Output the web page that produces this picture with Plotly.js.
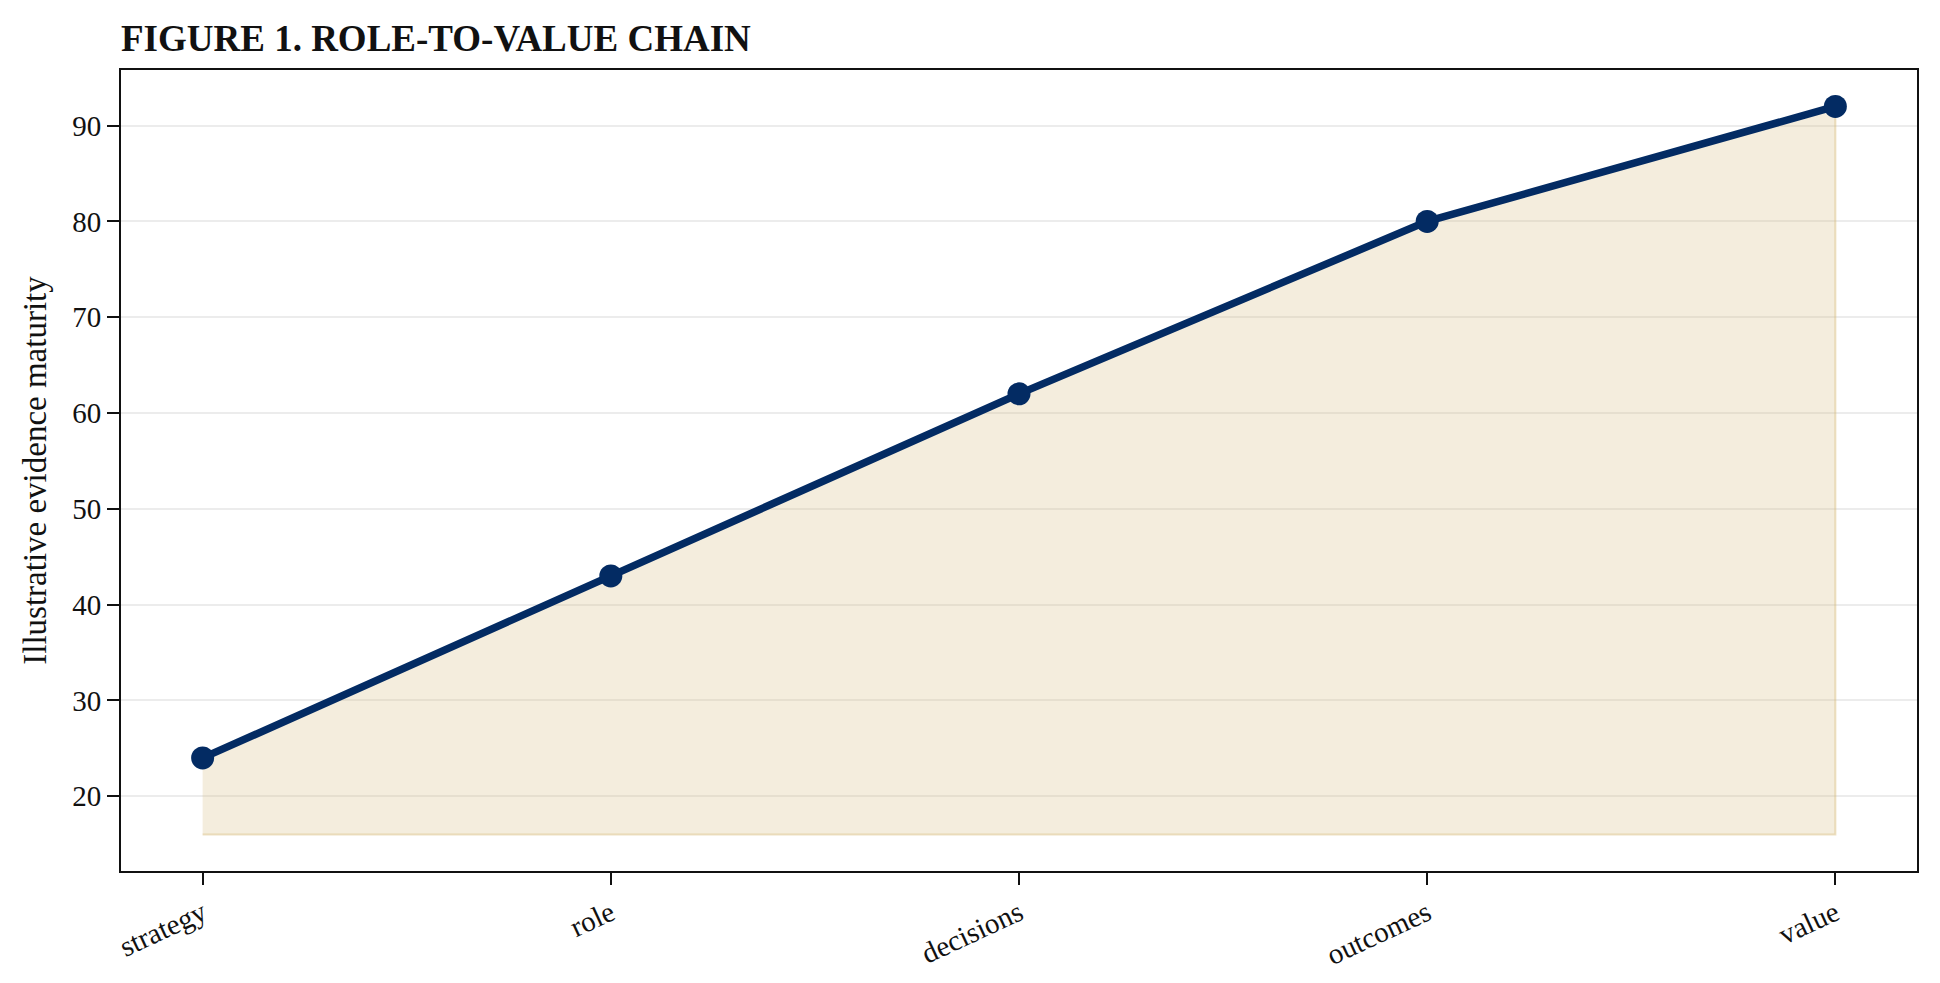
<!DOCTYPE html>
<html>
<head>
<meta charset="utf-8">
<script src="https://cdn.plot.ly/plotly-3.0.1.min.js"></script>
<style>
  html, body { margin: 0; padding: 0; background: #ffffff; }
  #chart { width: 1940px; height: 983px; }
</style>
</head>
<body>
<div id="chart"></div>
<script>
"use strict";

const stages = ["strategy", "role", "decisions", "outcomes", "value"];
const maturity = [24, 43, 62, 80, 92];
// Floor of the shaded band under the line.
const fillFloor = [16, 16, 16, 16, 16];
const yTicks = [20, 30, 40, 50, 60, 70, 80, 90];

const NAVY = "#032b63";
const FONT = "Liberation Serif, Times New Roman, serif";

const idx = stages.map((_, i) => i);

const band = {
  type: "scatter",
  mode: "lines",
  x: idx.concat(idx.slice().reverse()),
  y: maturity.concat(fillFloor.slice().reverse()),
  fill: "toself",
  fillcolor: "rgba(214,186,122,0.26)",
  line: { color: "rgba(214,186,122,0.45)", width: 2 },
  hoverinfo: "skip",
  showlegend: false,
};

const chain = {
  type: "scatter",
  mode: "lines+markers",
  x: idx,
  y: maturity,
  line: { color: NAVY, width: 7.5 },
  marker: { color: NAVY, size: 23 },
  showlegend: false,
};

const axisBase = {
  showline: true,
  mirror: true,
  linecolor: "#111111",
  linewidth: 2,
  ticks: "outside",
  ticklen: 12,
  tickwidth: 2,
  tickcolor: "#111111",
  zeroline: false,
  tickfont: { family: FONT, size: 29, color: "#111111" },
};

const layout = {
  width: 1940,
  height: 983,
  paper_bgcolor: "#ffffff",
  plot_bgcolor: "#ffffff",
  font: { family: FONT, color: "#111111" },
  margin: { l: 121, r: 23, t: 70, b: 112 },
  showlegend: false,
  title: {
    text: "<b>FIGURE 1. ROLE-TO-VALUE CHAIN</b>",
    font: { family: FONT, size: 37, color: "#111111" },
    x: 0,
    xref: "paper",
    xanchor: "left",
    y: 1 - 38 / 983,
    yref: "container",
    yanchor: "middle",
  },
  xaxis: {
    ...axisBase,
    range: [-0.2, 4.2],
    tickmode: "array",
    tickvals: idx,
    ticktext: stages,
    tickangle: -25,
    showgrid: false,
  },
  yaxis: {
    ...axisBase,
    range: [12.2, 95.8],
    tickmode: "array",
    tickvals: yTicks,
    ticktext: yTicks.map(String),
    showgrid: true,
    gridcolor: "#ececec",
    gridwidth: 2,
    title: {
      text: "Illustrative evidence maturity",
      font: { family: FONT, size: 33, color: "#111111" },
      standoff: 16,
    },
  },
};

Plotly.newPlot("chart", [band, chain], layout, { displayModeBar: false, staticPlot: true });
</script>
</body>
</html>
